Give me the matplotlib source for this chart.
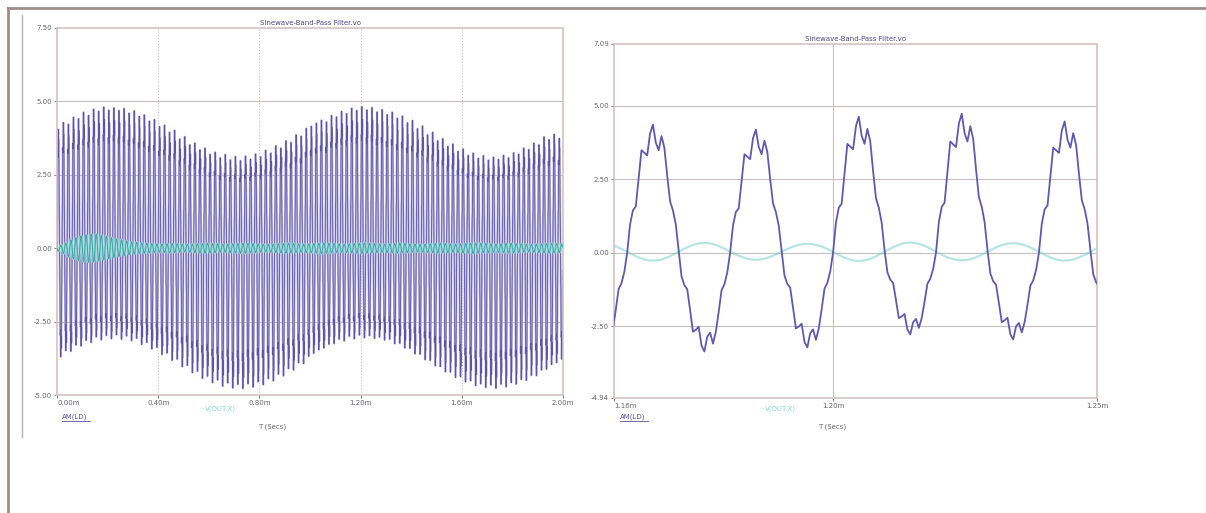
#!/usr/bin/env python3
"""
Band-pass filter transient: input vs output (two scope views)
"""

import numpy as np
import matplotlib
matplotlib.use('Agg')
import matplotlib.pyplot as plt
from matplotlib.lines import Line2D

plt.rcParams['font.family'] = 'DejaVu Sans'

# one cycle of the input wave (+1 = peak, -1 = trough)
cycle_shape = [0.00, 0.22, 0.33, 0.36, 0.58, 0.80, 0.78, 0.76, 0.93, 1.00, 0.86, 0.80,
               0.91, 0.82, 0.60, 0.40, 0.33, 0.22, 0.02, -0.24, -0.33, -0.37, -0.58, -0.80,
               -0.78, -0.75, -0.94, -1.00, -0.85, -0.81, -0.92, -0.80, -0.60, -0.38, -0.32, -0.20]

# one cycle of the filter output (smooth)
out_shape = [0.00, -0.26, -0.50, -0.71, -0.87, -0.97, -1.00, -0.97, -0.87, -0.71, -0.50, -0.26,
             0.00, 0.26, 0.50, 0.71, 0.87, 0.97, 1.00, 0.97, 0.87, 0.71, 0.50, 0.26]

# ---- left view: 0 .. 2 ms, 100 cycles ----
left_period = 0.02  # ms
left_peaks = [4.05, 4.28, 4.22, 4.46, 4.41, 4.63, 4.52, 4.74, 4.66, 4.81, 4.70, 4.78, 4.69, 4.76, 4.60,
              4.68, 4.49, 4.54, 4.33, 4.38, 4.14, 4.19, 3.95, 4.02, 3.72, 3.80, 3.52, 3.58, 3.35, 3.41,
              3.20, 3.27, 3.08, 3.19, 3.01, 3.12, 2.98, 3.14, 3.03, 3.21, 3.11, 3.33, 3.24, 3.49, 3.41,
              3.66, 3.60, 3.86, 3.82, 4.08,
              4.15, 4.26, 4.36, 4.30, 4.52, 4.47, 4.66, 4.58, 4.77, 4.69, 4.82, 4.71, 4.79, 4.64, 4.72,
              4.55, 4.63, 4.42, 4.50, 4.27, 4.35, 4.07, 4.16, 3.86, 3.95, 3.66, 3.73, 3.47, 3.55, 3.30,
              3.38, 3.16, 3.24, 3.06, 3.15, 3.00, 3.10, 3.02, 3.16, 3.08, 3.25, 3.20, 3.41, 3.36, 3.58,
              3.52, 3.79, 3.70, 3.88, 3.74]
left_troughs = [-3.70, -3.49, -3.51, -3.30, -3.33, -3.14, -3.21, -3.02, -3.12, -2.97, -3.08, -2.95,
                -3.10, -2.99, -3.15, -3.07, -3.28, -3.21, -3.43, -3.38, -3.62, -3.57, -3.82, -3.78,
                -4.04, -3.99, -4.24, -4.19, -4.43, -4.36, -4.58, -4.49, -4.70, -4.59, -4.76, -4.64,
                -4.78, -4.62, -4.73, -4.55, -4.65, -4.44, -4.52, -4.29, -4.35, -4.10, -4.15, -3.90,
                -3.93, -3.68,
                -3.58, -3.46, -3.40, -3.27, -3.25, -3.10, -3.16, -3.00, -3.09, -2.96, -3.05, -2.98,
                -3.07, -3.03, -3.13, -3.10, -3.25, -3.24, -3.40, -3.41, -3.60, -3.61, -3.80, -3.82,
                -4.01, -4.03, -4.21, -4.22, -4.40, -4.38, -4.55, -4.52, -4.68, -4.62, -4.74, -4.66,
                -4.77, -4.63, -4.72, -4.58, -4.63, -4.47, -4.50, -4.33, -4.34, -4.15, -4.12, -3.96,
                -3.90, -3.78]
left_out_amp = [0.10, 0.18, 0.28, 0.36, 0.42, 0.46, 0.48, 0.47, 0.44, 0.40, 0.36, 0.32, 0.28, 0.25,
                0.22, 0.20, 0.18, 0.17, 0.16, 0.15, 0.14, 0.15, 0.16, 0.15, 0.14, 0.13, 0.14, 0.15,
                0.16, 0.17, 0.16, 0.15, 0.14, 0.14, 0.15, 0.16, 0.17, 0.17, 0.16, 0.15, 0.14, 0.13,
                0.14, 0.15, 0.16, 0.17, 0.16, 0.15, 0.14, 0.15, 0.16, 0.17, 0.18, 0.17, 0.16, 0.15,
                0.14, 0.15, 0.16, 0.17, 0.18, 0.17, 0.16, 0.15, 0.14, 0.15, 0.16, 0.17, 0.16, 0.15,
                0.14, 0.13, 0.14, 0.15, 0.16, 0.17, 0.16, 0.15, 0.14, 0.15, 0.16, 0.17, 0.18, 0.17,
                0.16, 0.15, 0.14, 0.15, 0.16, 0.17, 0.16, 0.15, 0.14, 0.13, 0.14, 0.15, 0.16, 0.17,
                0.16, 0.15]
left_xticks = [0.0, 0.4, 0.8, 1.2, 1.6, 2.0]
left_xlabels = ['0.00m', '0.40m', '0.80m', '1.20m', '1.60m', '2.00m']
left_yticks = [7.5, 5.0, 2.5, 0.0, -2.5, -5.0]

# ---- right view: zoom around 1.2 ms ----
right_starts = [1.1415, 1.1610, 1.1805, 1.2000, 1.2195, 1.2390, 1.2585]
right_peaks = [4.30, 4.35, 4.18, 4.62, 4.72, 4.46]
right_troughs = [-3.25, -3.36, -3.22, -2.78, -2.95, -3.05]
right_out_amp = [0.28, 0.30, 0.27, 0.31, 0.29, 0.30]
right_xticks = [1.1585, 1.20, 1.25]
right_xlabels = ['1.16m', '1.20m', '1.25m']
right_yticks = [7.09, 5.0, 2.5, 0.0, -2.5, -4.94]

title = 'Sinewave-Band-Pass Filter.vo'
in_name = 'AM(LD)'
out_name = 'V(OUT.X)'
xlab = 'T (Secs)'

PURPLE = '#6159ad'
CYAN = '#6fcfc6'
GRID = '#c9bebe'
TXT = '#6a6470'


def build(starts, shape, amps_hi, amps_lo=None):
    shape = np.array(shape)
    ts, vs = [], []
    for i in range(len(starts) - 1):
        n = len(shape)
        t = starts[i] + (starts[i + 1] - starts[i]) * np.arange(n) / n
        if amps_lo is None:
            v = shape * amps_hi[i]
        else:
            v = np.where(shape >= 0, shape * amps_hi[i], shape * -amps_lo[i])
        ts.append(t)
        vs.append(v)
    return np.concatenate(ts), np.concatenate(vs)


def style_axes(ax, xlim, ylim, xticks, xlabels, yticks, dotted_x):
    ax.set_xlim(*xlim)
    ax.set_ylim(*ylim)
    ax.set_xticks(xticks)
    ax.set_xticklabels(xlabels)
    ax.set_yticks(yticks)
    ax.set_yticklabels([f'{v:.2f}' for v in yticks])
    ax.tick_params(labelsize=5, colors=TXT, length=2, width=0.6, pad=1.5)
    for s in ax.spines.values():
        s.set_color('#cfc3c3')
        s.set_linewidth(1.2)
    for y in yticks[1:-1]:
        ax.axhline(y, color=GRID, lw=0.8, zorder=0)
    for x in xticks[1:-1]:
        ax.axvline(x, color=GRID, lw=0.8, ls=':' if dotted_x else '-', zorder=0)
    labs = ax.get_xticklabels()
    labs[0].set_horizontalalignment('left')
    ax.set_title(title, fontsize=5, color='#4e4790', pad=2)


fig = plt.figure(figsize=(12.06, 5.13), dpi=100)

# frame decorations of the screenshot
fig.add_artist(Line2D([8 / 1206, 1], [1 - 8 / 513] * 2, transform=fig.transFigure,
                      color='#9d8e8e', lw=2.0))
fig.add_artist(Line2D([8 / 1206] * 2, [1 - 8 / 513, 0], transform=fig.transFigure,
                      color='#9d8e8e', lw=2.0))
fig.add_artist(Line2D([22 / 1206] * 2, [1 - 15 / 513, 1 - 437 / 513], transform=fig.transFigure,
                      color='#b9b0b0', lw=1.0))

# left panel
ax1 = fig.add_axes([57 / 1206, 1 - 395 / 513, 506 / 1206, 367 / 513])
lt = np.arange(len(left_peaks) + 1) * left_period
t, v = build(lt, cycle_shape, left_peaks, left_troughs)
ax1.plot(t, v, color='#bdb7e4', lw=1.5, zorder=1)
ax1.plot(t, v, color='#4d4599', lw=0.6, alpha=0.85, zorder=2)
t, v = build(lt, out_shape, left_out_amp)
ax1.plot(t, v, color='#9fe0da', lw=2.0, alpha=0.8, zorder=3)
ax1.plot(t, v, color='#3aa7a8', lw=0.7, zorder=3)
style_axes(ax1, (0, 2.0), (-5.0, 7.5), left_xticks, left_xlabels, left_yticks, True)

# right panel
ax2 = fig.add_axes([614 / 1206, 1 - 398 / 513, 483 / 1206, 354 / 513])
t, v = build(right_starts, out_shape, right_out_amp)
ax2.plot(t, v + 0.03, color=CYAN, lw=1.6, alpha=0.5, zorder=2)
t, v = build(right_starts, cycle_shape, right_peaks, right_troughs)
ax2.plot(t, v, color=PURPLE, lw=1.3, zorder=3)
style_axes(ax2, (1.1585, 1.25), (-4.94, 7.09), right_xticks, right_xlabels, right_yticks, False)

# trace names and x labels under each panel
for x0, xc, xl in [(62, 205, 258), (620, 765, 818)]:
    fig.text(x0 / 1206, 1 - 418 / 513, in_name, fontsize=5, color='#5b52a8')
    fig.add_artist(Line2D([x0 / 1206, (x0 + 28) / 1206], [1 - 421 / 513] * 2,
                          transform=fig.transFigure, color='#5b52a8', lw=0.6))
    fig.text(xc / 1206, 1 - 411 / 513, out_name, fontsize=5, color='#8fd8d0')
    fig.text(xl / 1206, 1 - 428 / 513, xlab, fontsize=5, color=TXT)

plt.savefig('out.png', dpi=100)
plt.close()
